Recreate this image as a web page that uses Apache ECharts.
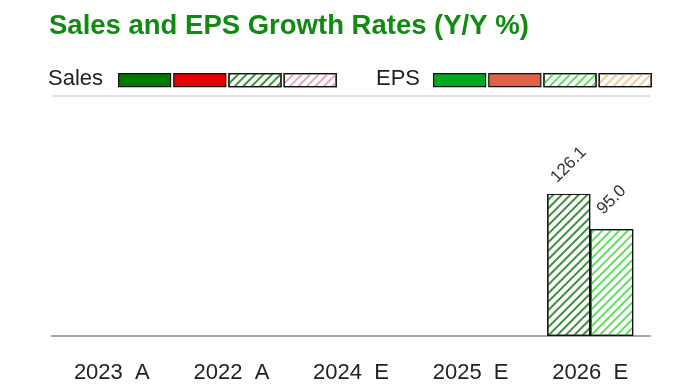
<!DOCTYPE html>
<html><head><meta charset="utf-8">
<script src="https://cdn.jsdelivr.net/npm/echarts@6/dist/echarts.min.js"></script>
<style>html,body{margin:0;padding:0;background:#fff}#c{width:700px;height:387px}</style>
</head><body><div id="c"></div>
<script>
const categories = ['2023  A', '2022  A', '2024  E', '2025  E', '2026  E'];
const salesActual = [null, null, null, null, null];
const salesActualNeg = [null, null, null, null, null];
const salesEst = [null, null, null, null, 126.1];
const salesEstNeg = [null, null, null, null, null];
const epsActual = [null, null, null, null, null];
const epsActualNeg = [null, null, null, null, null];
const epsEst = [null, null, null, null, 95.0];
const epsEstNeg = [null, null, null, null, null];

const chart = echarts.init(document.getElementById('c'), null, {renderer: 'canvas'});
const FONT = '"Liberation Sans", Arial, sans-serif';
function hatch(color) {
  return {symbol: 'rect', symbolSize: 1, dashArrayX: [1, 0], dashArrayY: [1.3, 3.3], rotation: -Math.PI / 4, color: color};
}
const border = {borderColor: '#111', borderWidth: 1.2};
const lbl = {
  show: true, position: 'top', distance: 29, rotate: 45, align: 'center', verticalAlign: 'middle',
  fontFamily: FONT, fontSize: 17, color: '#333',
  formatter: p => (p.value == null ? '' : Number(p.value).toFixed(1))
};
function bar(name, data, stack, itemStyle, label) {
  return {
    name: name, type: 'bar', stack: stack, data: data, barWidth: 43, barGap: '0%',
    itemStyle: Object.assign({}, border, itemStyle), label: label || {show: false},
    emphasis: {disabled: true}, animation: false
  };
}
const series = [
  bar('Sales Actual', salesActual, 'sales', {color: '#007a00'}),
  bar('Sales Actual Neg', salesActualNeg, 'sales', {color: '#e60000'}),
  bar('Sales Est', salesEst, 'sales', {color: '#ffffff', decal: hatch('#3d8f3d')}, lbl),
  bar('Sales Est Neg', salesEstNeg, 'sales', {color: '#ffffff', decal: hatch('#e0a8b8')}),
  bar('EPS Actual', epsActual, 'eps', {color: '#00a820'}),
  bar('EPS Actual Neg', epsActualNeg, 'eps', {color: '#dd6248'}),
  bar('EPS Est', epsEst, 'eps', {color: '#ffffff', decal: hatch('#5ee05e')}, lbl),
  bar('EPS Est Neg', epsEstNeg, 'eps', {color: '#ffffff', decal: hatch('#f5c8a0')})
];
const legendCommon = {
  top: 73, padding: 0, itemWidth: 52, itemHeight: 13, itemGap: 2, icon: 'rect',
  formatter: () => '', selectedMode: false,
  itemStyle: {borderColor: '#111', borderWidth: 1.2},
  textStyle: {fontSize: 1}
};
chart.setOption({
  animation: false,
  title: {
    text: 'Sales and EPS Growth Rates (Y/Y %)', left: 44, top: 7,
    textStyle: {fontFamily: FONT, fontSize: 27.5, fontWeight: 'bold', color: '#118a11'}
  },
  legend: [
    Object.assign({left: 118, data: ['Sales Actual', 'Sales Actual Neg', 'Sales Est', 'Sales Est Neg']}, legendCommon),
    Object.assign({left: 433, data: ['EPS Actual', 'EPS Actual Neg', 'EPS Est', 'EPS Est Neg']}, legendCommon)
  ],
  graphic: [
    {type: 'text', left: 48, top: 68, style: {text: 'Sales', font: '22px ' + FONT, fill: '#222'}},
    {type: 'text', left: 376, top: 68, style: {text: 'EPS', font: '22px ' + FONT, fill: '#222'}}
  ],
  grid: {left: 52, right: 50, top: 96, bottom: 51, containLabel: false},
  xAxis: {
    type: 'category', data: categories,
    axisLine: {lineStyle: {color: '#a8a8a8', width: 2}},
    axisTick: {show: false},
    axisLabel: {margin: 26, fontFamily: FONT, fontSize: 22, color: '#222'}
  },
  yAxis: {
    type: 'value', min: 0, max: 213, interval: 213,
    axisLine: {show: false}, axisTick: {show: false}, axisLabel: {show: false},
    splitLine: {show: true, lineStyle: {color: '#d6d6d6', width: 1.5}}
  },
  series: series
});
</script></body></html>
